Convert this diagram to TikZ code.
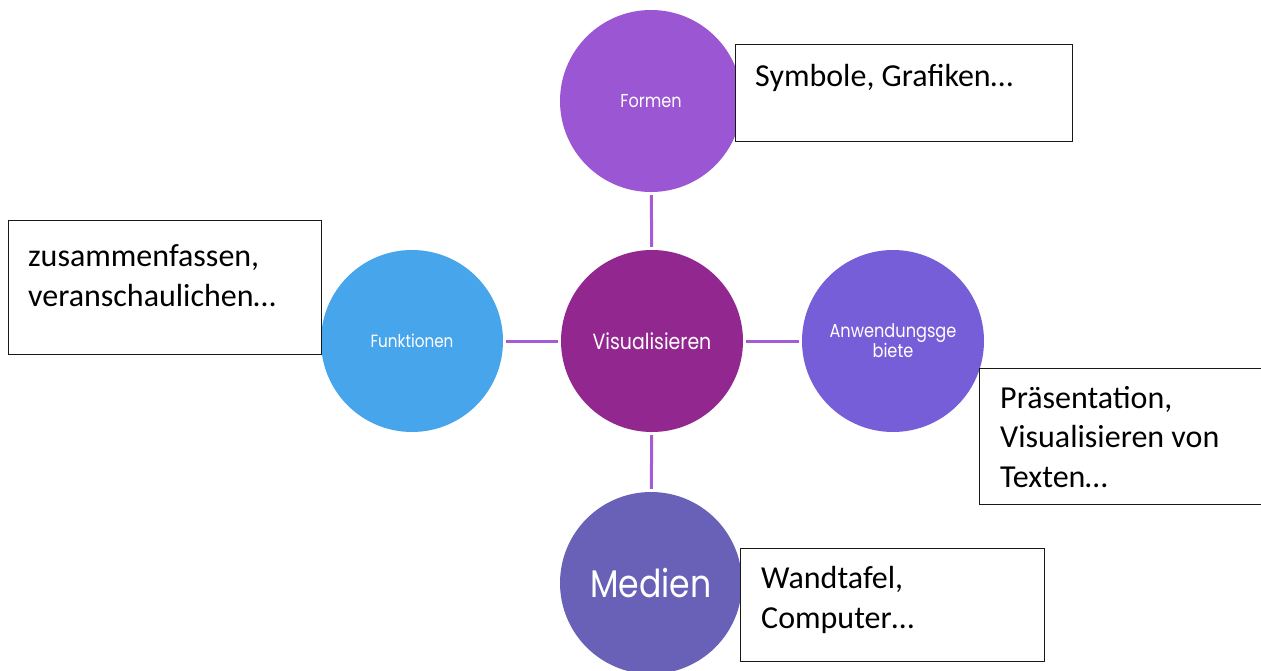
\documentclass[tikz,border=0pt]{standalone}
\usepackage{fontspec}
\setmainfont{Carlito}
\newfontfamily\bubblefont[FakeStretch=0.86]{Poppins}
\definecolor{cForm}{HTML}{9B57D3}
\definecolor{cVis}{HTML}{92278F}
\definecolor{cFunk}{HTML}{47A5EB}
\definecolor{cAnw}{HTML}{765ED9}
\definecolor{cMed}{HTML}{6961B8}
\definecolor{cLink}{HTML}{A45BD8}
\tikzset{
  bubble/.style={circle, minimum size=182pt, inner sep=0pt, text=white,
    font=\bubblefont\fontsize{17.7}{22}\selectfont, align=center},
  link/.style={draw=cLink, line width=3pt, shorten <=3pt, shorten >=3pt},
  notebox/.style={draw=black!90, line width=1.3pt, fill=white, anchor=north west, inner sep=0pt},
  notetext/.style={font=\fontsize{32}{39.5}\selectfont, anchor=base west, align=left, inner sep=0pt}
}
\begin{document}
\begin{tikzpicture}[x=1pt, y=-1pt]
\useasboundingbox (0,0) rectangle (1261,671);

% the five topic circles
\node[bubble, fill=cForm, font=\bubblefont\fontsize{18.7}{22}\selectfont] (formen) at (651,101) {Formen};
\node[bubble, fill=cVis, font=\bubblefont\fontsize{22}{26}\selectfont] (vis) at (652,341) {Visualisieren};
\node[bubble, fill=cFunk] (funk) at (412,341) {Funktionen};
\node[bubble, fill=cAnw, font=\bubblefont\fontsize{18.8}{20}\selectfont] (anw) at (893,341) {Anwendungsge\\[0pt]biete};
\node[bubble, fill=cMed, font=\bubblefont\fontsize{38.5}{40}\selectfont] (med) at (651,583) {Medien};

% spokes from the centre
\draw[link] (formen) -- (vis);
\draw[link] (funk) -- (vis);
\draw[link] (vis) -- (anw);
\draw[link] (vis) -- (med);

% note boxes
\node[notebox, minimum width=337pt, minimum height=97pt] (symbox) at (735,44) {};
\node[notebox, minimum width=313pt, minimum height=134pt] (funbox) at (8,220) {};
\node[notebox, minimum width=300pt, minimum height=136pt] (anwbox) at (979,368) {};
\node[notebox, minimum width=304pt, minimum height=113pt] (medbox) at (740,548) {};

% note texts, placed by the baseline of their last line
\node[notetext] (symtxt) at (755,87) {Symbole, Grafiken…};
\node[notetext] (funtxt) at (28,306) {zusammenfassen,\\veranschaulichen…};
\node[notetext] (anwtxt) at (1000,487) {Präsentation,\\Visualisieren von\\Texten…};
\node[notetext] (medtxt) at (761,628) {Wandtafel,\\Computer…};
\end{tikzpicture}
\end{document}
